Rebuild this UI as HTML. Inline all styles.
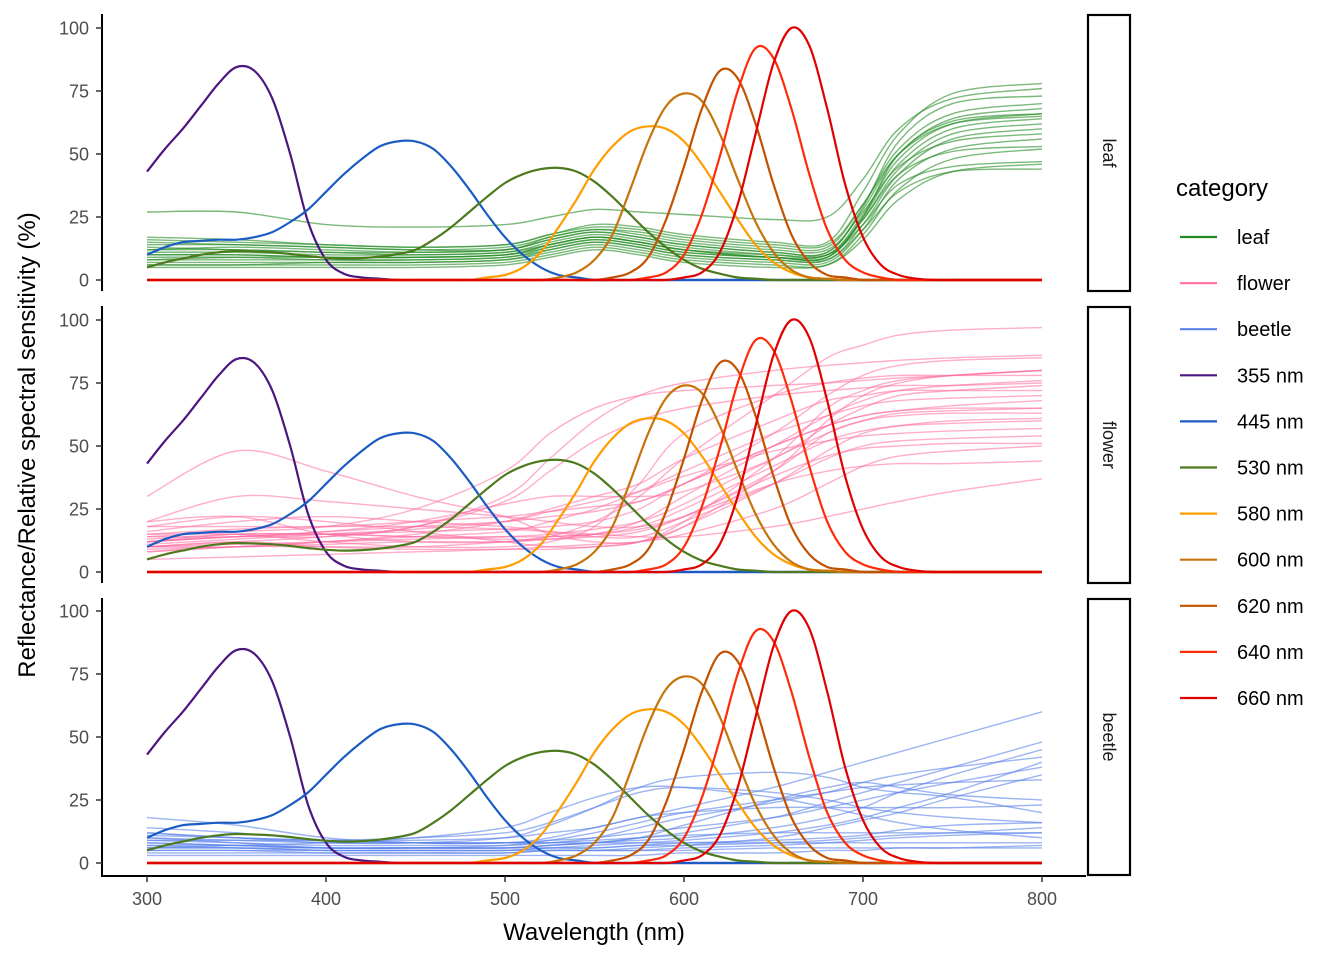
<!DOCTYPE html>
<html><head><meta charset="utf-8"><style>
body{margin:0;background:#fff;}
svg{display:block;font-family:"Liberation Sans",Arial,sans-serif;}
</style></head><body>
<svg id="c" width="1344" height="960" xmlns="http://www.w3.org/2000/svg"></svg>
<script>
const knots=[300,350,400,450,500,525,550,575,600,650,680,700,720,750,800];
const leafSpectra=[
[27,27,22,21,22,25,28,27,26,24,25,40,60,72,76],
[17,16,14,13,14,18,22,21,18,15,15,35,58,74,78],
[15,14,13,12,13,17,20,19,16,13,13,30,52,66,70],
[13,12,11,11,12,16,19,17,14,11,11,28,50,64,68],
[12,12,11,10,11,15,18,16,13,10,10,26,48,62,66],
[10,10,9,9,10,14,17,15,12,9,9,25,46,60,64],
[9,9,8,8,9,13,16,14,11,9,9,24,44,58,62],
[8,8,8,8,9,12,15,13,10,8,8,22,42,56,60],
[7,7,7,7,8,11,14,12,9,7,7,20,40,52,56],
[6,6,6,6,7,10,13,11,8,6,6,18,36,48,52],
[5,5,5,5,6,9,12,10,7,5,6,16,32,43,46],
[14,14,13,12,12,17,20,18,15,12,12,27,45,55,58],
[11,11,10,10,11,14,17,15,12,10,10,22,38,45,47],
[16,15,14,13,14,18,21,20,17,14,14,30,50,62,65],
[8,9,9,9,10,14,17,15,12,9,10,24,42,51,53],
[6,6,7,7,8,12,15,13,10,8,8,20,35,43,44],
[12,13,12,11,12,16,19,17,14,11,11,29,55,70,73],
[10,10,9,9,10,13,16,14,11,9,9,25,50,63,66]];
const flowerSpectra=[
[10,12,10,9,9,9,10,12,20,45,65,72,76,78,80],
[30,48,40,30,22,15,12,12,18,40,60,70,75,78,80],
[15,15,12,10,10,12,18,35,55,70,75,77,78,78,78],
[12,14,14,18,28,40,52,60,65,70,72,73,74,74,75],
[20,22,15,12,12,14,20,30,45,70,85,90,94,96,97],
[14,14,16,20,27,30,30,30,32,45,58,65,70,72,74],
[8,10,10,10,12,14,15,17,22,40,55,60,63,64,65],
[18,18,18,20,22,24,26,28,35,50,58,62,64,65,65],
[10,10,12,15,20,25,30,35,45,60,68,70,72,72,72],
[12,15,15,14,14,14,15,18,25,42,52,56,58,59,60],
[10,11,12,13,14,15,17,20,27,45,55,60,62,63,63],
[16,20,22,20,18,16,14,14,20,35,45,50,52,53,54],
[5,6,7,8,9,10,11,12,15,25,35,42,46,48,50],
[10,12,14,18,30,45,60,70,75,80,82,83,84,85,86],
[12,14,16,18,20,22,24,28,35,55,70,78,82,84,85],
[15,17,18,18,17,16,15,14,14,18,22,25,28,32,37],
[20,30,28,25,22,20,18,18,22,35,40,42,43,43,44],
[12,14,15,16,17,18,20,25,35,50,58,62,64,66,68],
[14,16,18,25,40,55,65,70,72,74,75,76,77,78,80],
[8,10,12,14,16,20,25,32,40,55,62,66,68,69,70],
[18,22,20,16,12,10,10,12,18,35,48,55,58,60,61],
[11,13,15,17,20,24,28,32,38,48,52,54,55,56,57],
[9,10,11,12,12,13,15,20,30,50,62,68,72,74,76],
[13,15,15,14,13,13,14,16,22,38,46,49,50,51,51]];
const beetleSpectra=[
[18,15,10,8,8,10,14,18,22,30,36,40,44,50,60],
[12,10,8,8,10,15,22,30,34,36,34,30,28,26,20],
[8,7,6,6,6,7,8,10,12,18,24,28,32,38,48],
[10,8,6,6,6,7,8,9,10,14,18,22,28,35,45],
[6,6,5,5,5,6,7,8,9,12,15,18,22,28,40],
[9,9,9,10,12,16,22,28,30,28,25,22,20,18,16],
[5,5,4,4,4,5,5,6,7,10,14,17,20,26,35],
[12,10,9,8,8,9,10,12,14,18,22,25,28,32,38],
[7,7,6,6,7,9,12,16,20,25,28,30,31,32,33],
[4,4,4,4,4,5,5,5,6,7,8,9,10,11,12],
[8,7,6,6,6,6,6,7,7,8,9,10,11,12,14],
[10,9,8,8,8,8,9,10,11,12,12,12,12,12,12],
[6,6,6,6,6,7,8,10,15,25,30,32,30,27,25],
[3,3,3,3,3,3,3,3,4,4,5,5,6,6,7],
[11,10,9,9,10,12,14,18,20,22,22,22,22,22,23],
[5,5,5,5,5,6,6,7,8,9,10,11,13,15,16],
[9,8,7,7,7,8,10,14,18,24,28,32,35,38,42],
[14,12,9,8,8,8,8,8,8,8,8,8,8,8,8],
[6,7,8,10,14,20,26,30,30,26,22,19,16,13,10],
[7,6,5,5,5,5,5,5,5,6,6,6,6,6,6]];
// sensitivity curves: start wavelength, values every 10nm (zeros elsewhere)
const s355=[300,[43,52,60,69,78,84.5,83,72,50,23,8,2.5,1,0.5,0]];
const s445=[300,[10,13,15,15.5,16,16,17,19,23,28,35,42,48,53,55,55,52,45,36,26,17,10,5,2,1,0]];
const s530=[300,[5,7,8.5,10,11,11.5,11.3,11,10.3,9.5,8.8,8.5,8.7,9.3,10.3,12,16,21,27,33,38.5,42,44,44.5,43,39,33,26,19,13,8,4.5,2.5,1,0.5,0]];
const s580=[480,[0,1,2,5,11,21,32,44,53,59,61,60,55,46,35,24,14,7,3,1,0.5,0]];
const s600=[520,[0,1,3,8,18,36,55,69,74,71,58,40,23,11,4,1,0.5,0]];
const s620=[550,[0,1,3,9,24,45,68,83,80,62,38,18,7,2,1,0]];
const s640=[570,[0,1,3,10,26,49,75,92,88,68,42,20,8,3,1,0]];
const s660=[590,[0,1,3,11,30,58,86,100,93,68,38,17,6,2,0.5,0]];
const sensNames=["355 nm","445 nm","530 nm","580 nm","600 nm","620 nm","640 nm","660 nm"];
const sensColors=["#4b1680","#1a5cc4","#4d7a1d","#ff9d00","#c67409","#c35200","#ff2a0a","#e00000"];
const sensData=[s355,s445,s530,s580,s600,s620,s640,s660];
const panelNames=["leaf","flower","beetle"];
const yTicks=[0,25,50,75,100];
const xTicks=[300,400,500,600,700,800];

const svg=document.getElementById('c');const NS="http://www.w3.org/2000/svg";
function mk(t,a,p){const e=document.createElementNS(NS,t);for(const k in a)e.setAttribute(k,a[k]);(p||svg).appendChild(e);return e;}
const X=w=>147+(w-300)*895/500;
const panelTop=[15,307,599],panelBot=[291,583,875];
function Y(p,v){const z=[280,572,863][p];return z-v*2.52;}
function smooth(pts){let d="M"+pts[0][0].toFixed(1)+","+pts[0][1].toFixed(1);
 for(let i=0;i<pts.length-1;i++){const p0=pts[i-1]||pts[i],p1=pts[i],p2=pts[i+1],p3=pts[i+2]||p2;
  const c1=[p1[0]+(p2[0]-p0[0])/6,p1[1]+(p2[1]-p0[1])/6],c2=[p2[0]-(p3[0]-p1[0])/6,p2[1]-(p3[1]-p1[1])/6];
  d+="C"+c1[0].toFixed(1)+","+c1[1].toFixed(1)+" "+c2[0].toFixed(1)+","+c2[1].toFixed(1)+" "+p2[0].toFixed(1)+","+p2[1].toFixed(1);}
 return d;}
const specs=[leafSpectra,flowerSpectra,beetleSpectra];
const specCol=["rgba(34,139,34,0.6)","rgba(255,105,160,0.55)","rgba(90,130,235,0.6)"];
for(let p=0;p<3;p++){
 const g=mk('g',{});
 specs[p].forEach((s,i)=>{const path=mk('path',{d:smooth(s.map((v,j)=>[X(knots[j]),Y(p,v)])),fill:'none',stroke:specCol[p],'stroke-width':1.4},g);
  });
 sensData.forEach((s,i)=>{const pts=[];
  for(let w=300;w<=800;w+=10){const j=(w-s[0])/10;const v=(j>=0&&j<s[1].length)?s[1][j]:0;pts.push([X(w),Y(p,v)]);}
  const path=mk('path',{d:smooth(pts),fill:'none',stroke:sensColors[i],'stroke-width':2.2},g);
  });
 const ax=mk('line',{x1:102,x2:102,y1:panelTop[p]-1,y2:panelBot[p],stroke:'#000','stroke-width':2},g);
 
 yTicks.forEach(t=>{mk('line',{x1:96,x2:102,y1:Y(p,t),y2:Y(p,t),stroke:'#333','stroke-width':1.5},g);
  const tx=mk('text',{x:89,y:Y(p,t)+6.5,'text-anchor':'end','font-size':18,fill:'#4d4d4d'},g);tx.textContent=t;
  });
 const r=mk('rect',{x:1088,y:panelTop[p],width:42,height:panelBot[p]-panelTop[p],fill:'#fff',stroke:'#000','stroke-width':2.2});
 
 const cy=(panelTop[p]+panelBot[p])/2;
 const st=mk('text',{x:1109,y:cy,'text-anchor':'middle','font-size':18,fill:'#1a1a1a',transform:`rotate(90 1109 ${cy}) translate(0 6)`});
 st.textContent=panelNames[p];
}
const xa=mk('line',{x1:101,x2:1086,y1:876,y2:876,stroke:'#000','stroke-width':2});

xTicks.forEach(t=>{mk('line',{x1:X(t),x2:X(t),y1:876,y2:882,stroke:'#333','stroke-width':1.5});
 const tx=mk('text',{x:X(t),y:905,'text-anchor':'middle','font-size':18,fill:'#4d4d4d'});tx.textContent=t;
 });
const xt=mk('text',{x:594,y:940,'text-anchor':'middle','font-size':24,fill:'#000'});xt.textContent='Wavelength (nm)';

const yt=mk('text',{x:0,y:0,'text-anchor':'middle','font-size':24,fill:'#000',transform:'translate(35 445) rotate(-90)'});yt.textContent='Reflectance/Relative spectral sensitivity (%)';

const lg=mk('g',{});
const lt=mk('text',{x:1176,y:196,'font-size':24,fill:'#000'},lg);lt.textContent='category';

const legNames=["leaf","flower","beetle"].concat(sensNames);
const legCols=["#228b22","#ff77a6","#5a82eb"].concat(sensColors);
legNames.forEach((n,i)=>{const y=237+i*46.1;
 const e=mk('g',{},lg);
 mk('line',{x1:1180,x2:1217,y1:y,y2:y,stroke:legCols[i],'stroke-width':2.2},e);
 const t=mk('text',{x:1237,y:y+7,'font-size':20,fill:'#000'},e);t.textContent=n;});
</script>
</body></html>
